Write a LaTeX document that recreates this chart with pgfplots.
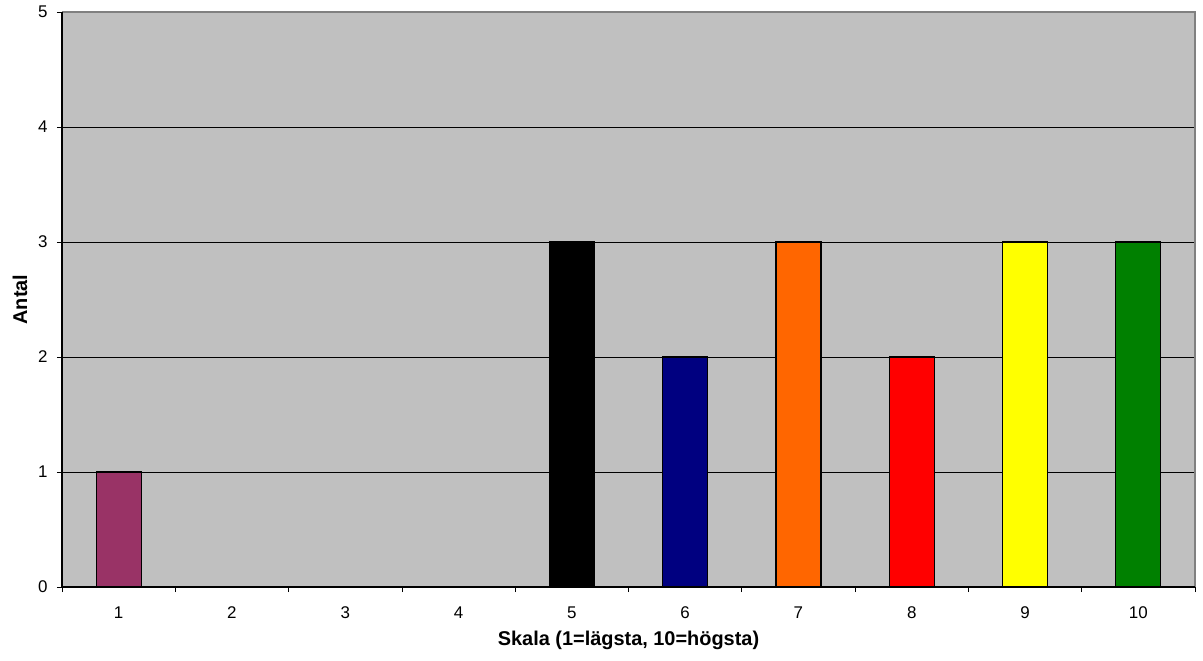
\documentclass[border=0pt]{standalone}
\usepackage{pgfplots}
\pgfplotsset{compat=1.18}
\usepackage{fontspec}
\setmainfont{Liberation Sans}
\definecolor{bgsilver}{HTML}{C0C0C0}
\definecolor{plum}{HTML}{993366}
\definecolor{navyb}{HTML}{000080}
\definecolor{orangeb}{HTML}{FF6600}
\definecolor{redb}{HTML}{FF0000}
\definecolor{yellowb}{HTML}{FFFF00}
\definecolor{greenb}{HTML}{008000}
\definecolor{frame}{HTML}{808080}
\begin{document}
\begin{tikzpicture}
\path[use as bounding box] (-62bp,-74bp) rectangle (1141bp,587bp);
\begin{axis}[
  at={(0,0)}, anchor=south west,
  scale only axis, width=1133bp, height=575bp,
  xmin=0.5, xmax=10.5, ymin=0, ymax=5,
  ybar, bar width=45bp, bar shift=0pt,
  axis background/.style={fill=bgsilver},
  axis line style={draw=none},
  xtick={1,...,10}, major x tick style={draw=none},
  minor xtick={0.5,1.5,...,10.5},
  ytick={0,...,5},
  xtick pos=bottom, ytick pos=left,
  tick align=outside,
  major tick length=5bp, minor tick length=5bp,
  tick style={black, line width=0.8bp},
  ymajorgrids, major grid style={black, line width=0.8bp},
  /pgf/number format/assume math mode=true,
  ticklabel style={font=\fontsize{17}{17}\selectfont},
  xticklabel style={anchor=center, yshift=-21bp},
  yticklabel style={anchor=east, xshift=-6bp},
  xlabel={Skala (1=lägsta, 10=högsta)},
  ylabel={Antal},
  label style={font=\fontsize{20}{20}\selectfont\bfseries},
  xlabel style={at={(axis description cs:0.5,0)}, anchor=center, yshift=-53bp},
  ylabel style={at={(axis description cs:0,0.5)}, anchor=center, rotate=0, yshift=42bp},
  clip=false,
]
\addplot[fill=plum, draw=black, line width=1.2bp] coordinates {(1,1)};
\addplot[fill=black, draw=black, line width=1.2bp] coordinates {(5,3)};
\addplot[fill=navyb, draw=black, line width=1.2bp] coordinates {(6,2)};
\addplot[fill=orangeb, draw=black, line width=1.2bp] coordinates {(7,3)};
\addplot[fill=redb, draw=black, line width=1.2bp] coordinates {(8,2)};
\addplot[fill=yellowb, draw=black, line width=1.2bp] coordinates {(9,3)};
\addplot[fill=greenb, draw=black, line width=1.2bp] coordinates {(10,3)};
\draw[frame, line width=1.2bp] (rel axis cs:0,1) -- (rel axis cs:1,1) -- (rel axis cs:1,0);
\draw[black, line width=1.2bp] (rel axis cs:0,1) -- (rel axis cs:0,0) -- (rel axis cs:1,0);
\end{axis}
\end{tikzpicture}
\end{document}
